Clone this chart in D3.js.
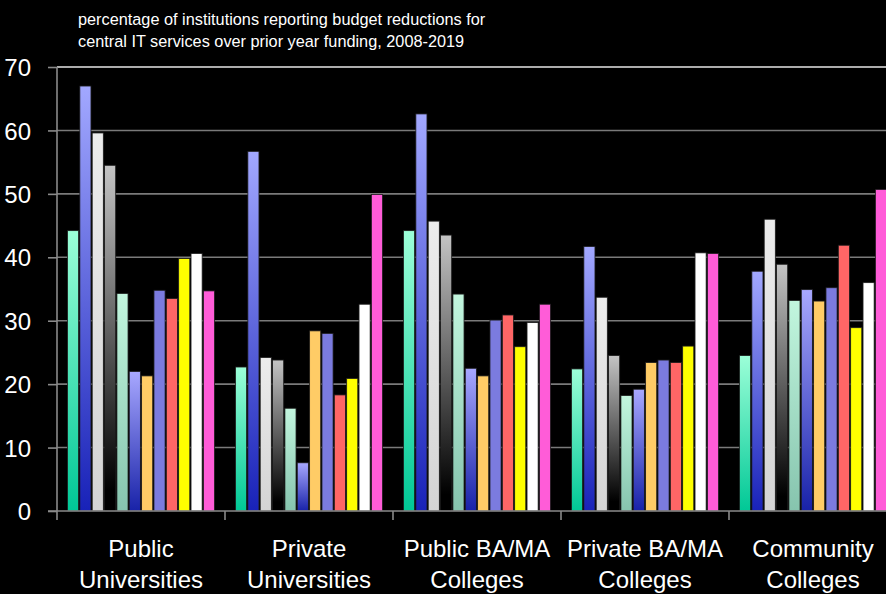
<!DOCTYPE html>
<html>
<head>
<meta charset="utf-8">
<script src="https://cdn.jsdelivr.net/npm/d3@7/dist/d3.min.js"></script>
<style>
  html, body { margin: 0; padding: 0; background: #000; }
  svg { display: block; }
  text { font-family: "Liberation Sans", Arial, sans-serif; fill: #fff; }
</style>
</head>
<body>
<div id="chart"></div>
<script>
// ---- data ----
const categories = ["Public Universities", "Private Universities", "Public BA/MA Colleges", "Private BA/MA Colleges", "Community Colleges"];
const categoryLines = [["Public", "Universities"], ["Private", "Universities"], ["Public BA/MA", "Colleges"], ["Private BA/MA", "Colleges"], ["Community", "Colleges"]];
const years = ["2008", "2009", "2010", "2011", "2012", "2013", "2014", "2015", "2016", "2017", "2018", "2019"];
const publicUniversities  = [44.2, 67.0, 59.6, 54.5, 34.3, 22.0, 21.3, 34.8, 33.5, 39.8, 40.6, 34.7];
const privateUniversities = [22.7, 56.7, 24.2, 23.8, 16.2, 7.6, 28.4, 28.0, 18.3, 20.9, 32.6, 49.9];
const publicBAMA          = [44.2, 62.6, 45.7, 43.5, 34.2, 22.5, 21.3, 30.1, 30.9, 25.9, 29.7, 32.6];
const privateBAMA         = [22.4, 41.7, 33.7, 24.5, 18.2, 19.2, 23.4, 23.8, 23.4, 26.0, 40.7, 40.6];
const communityColleges   = [24.5, 37.8, 46.0, 38.9, 33.2, 34.9, 33.1, 35.2, 41.9, 28.9, 36.0, 50.7];
const yTicks = [0, 10, 20, 30, 40, 50, 60, 70];
const titleLines = ["percentage of institutions reporting budget reductions for", "central IT services over prior year funding, 2008-2019"];

const seriesByCategory = [publicUniversities, privateUniversities, publicBAMA, privateBAMA, communityColleges];

// ---- styles ----
const fills = [
  ["#9cffd8", "#00c896"],
  ["#a2a8ff", "#1822b8"],
  ["#ececec", "#d4d4d4"],
  ["#c4c4c4", "#000000"],
  ["#c2f6de", "#86c4ae"],
  ["#a8a8ff", "#1822a8"],
  "#ffcc66",
  "#7b7bdf",
  "#ff6666",
  "#ffff00",
  "#ffffff",
  "#ff5cd8"
];

const W = 886, H = 594;
const svg = d3.select("#chart").append("svg").attr("width", W).attr("height", H);
svg.append("rect").attr("width", W).attr("height", H).attr("fill", "#000");

const defs = svg.append("defs");
fills.forEach((f, i) => {
  if (Array.isArray(f)) {
    const g = defs.append("linearGradient").attr("id", "g" + i)
      .attr("x1", 0).attr("y1", 0).attr("x2", 0).attr("y2", 1);
    g.append("stop").attr("offset", "0%").attr("stop-color", f[0]);
    g.append("stop").attr("offset", i === 3 ? "94%" : "100%").attr("stop-color", f[1]);
    if (i === 3) g.append("stop").attr("offset", "100%").attr("stop-color", "#000");
  }
});
const fillFor = i => Array.isArray(fills[i]) ? `url(#g${i})` : fills[i];

const plotLeft = 57, plotTop = 67, plotBottom = 511;
const groupW = 168;
const x0 = d3.scaleBand().domain(categories).range([plotLeft, plotLeft + groupW * categories.length]).padding(0);
const x1 = d3.scaleBand().domain(years).range([0, x0.bandwidth()]).paddingInner(0.1).paddingOuter(0.85);
const y = d3.scaleLinear().domain([0, 70]).range([plotBottom, plotTop]);

// gridlines
svg.append("g").selectAll("line").data(yTicks.filter(t => t > 0 && t < 70)).join("line")
  .attr("x1", plotLeft).attr("x2", W).attr("y1", d => y(d)).attr("y2", d => y(d))
  .attr("stroke", "#7a7a7a").attr("stroke-width", 1.6);
svg.append("line").attr("x1", plotLeft).attr("x2", W).attr("y1", y(70)).attr("y2", y(70))
  .attr("stroke", "#e6e6e6").attr("stroke-width", 1.6);

// bars
const gGroups = svg.append("g").selectAll("g").data(categories).join("g")
  .attr("transform", d => `translate(${x0(d)},0)`);
gGroups.selectAll("rect").data((d, ci) => years.map((yr, i) => ({ yr, i, v: seriesByCategory[ci][i] }))).join("rect")
  .attr("x", d => x1(d.yr))
  .attr("width", x1.bandwidth())
  .attr("y", d => y(d.v))
  .attr("height", d => y(0) - y(d.v))
  .attr("fill", d => fillFor(d.i))
  .attr("stroke", "#1c1c1c").attr("stroke-width", 0.8);

// y axis
const yAxis = d3.axisLeft(y).tickValues(yTicks).tickSize(9).tickFormat(d3.format("d"));
const ya = svg.append("g").attr("transform", `translate(${plotLeft},0)`).call(yAxis);
ya.select(".domain").remove();
ya.selectAll(".tick line").attr("stroke", "#8a8a8a").attr("stroke-width", 1.6);
ya.selectAll(".tick text").attr("x", -26).attr("dy", "0.36em")
  .style("font-size", "24px").style("font-family", '"Liberation Sans", Arial, sans-serif').attr("fill", "#fff");
svg.append("line").attr("x1", plotLeft).attr("x2", plotLeft).attr("y1", plotTop).attr("y2", plotBottom + 9)
  .attr("stroke", "#8a8a8a").attr("stroke-width", 1.6);

// x axis
svg.append("line").attr("x1", plotLeft - 9).attr("x2", W).attr("y1", plotBottom).attr("y2", plotBottom)
  .attr("stroke", "#8a8a8a").attr("stroke-width", 1.6);
svg.append("g").selectAll("line").data(categories.slice(1)).join("line")
  .attr("x1", d => x0(d)).attr("x2", d => x0(d)).attr("y1", plotBottom).attr("y2", plotBottom + 9)
  .attr("stroke", "#8a8a8a").attr("stroke-width", 1.6);

// category labels
const lab = svg.append("g").selectAll("text").data(categories).join("text")
  .attr("text-anchor", "middle")
  .attr("x", d => x0(d) + x0.bandwidth() / 2)
  .attr("y", 557)
  .style("font-size", "24px");
lab.each(function(d, i) {
  const t = d3.select(this);
  categoryLines[i].forEach((ln, k) => {
    t.append("tspan").attr("x", x0(d) + x0.bandwidth() / 2).attr("y", 557 + k * 31).text(ln);
  });
});

// title
svg.append("g").selectAll("text").data(titleLines).join("text")
  .attr("x", 78).attr("y", (d, i) => 25 + i * 22)
  .style("font-size", "16.3px")
  .text(d => d);
</script>
</body>
</html>
